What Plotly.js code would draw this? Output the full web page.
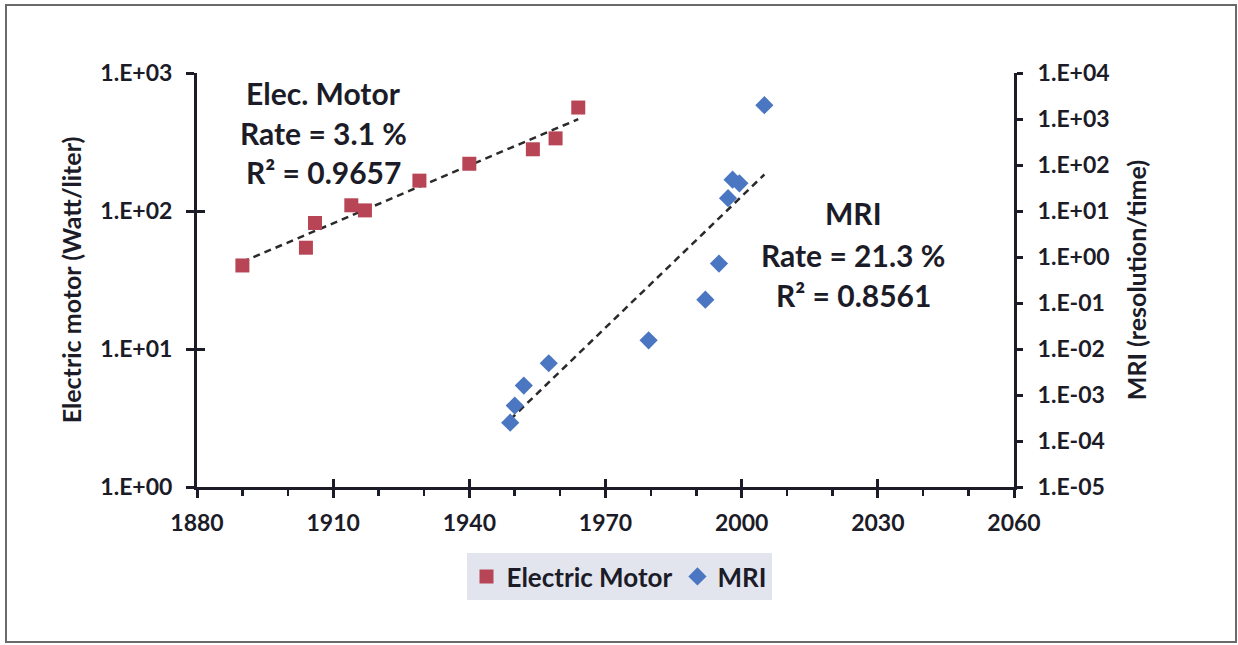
<!DOCTYPE html>
<html>
<head>
<meta charset="utf-8">
<script src="https://cdn.plot.ly/plotly-3.0.1.min.js"></script>
<style>
  html, body { margin: 0; padding: 0; background: #ffffff; }
  #chart { width: 1238px; height: 645px; }
</style>
</head>
<body>
<div id="chart"></div>
<script>
// ---- Data ----
const motorYears  = [1890, 1904, 1906, 1914, 1917, 1929, 1940, 1954, 1959, 1964];
const motorValues = [40.3, 54.2, 81.9, 110, 101, 166, 220, 280, 336, 562];

const mriYears  = [1949, 1950, 1952, 1957.5, 1979.5, 1992, 1995, 1997, 1998, 1999.5, 2005];
const mriValues = [2.5e-4, 5.9e-4, 1.6e-3, 4.9e-3, 0.0154, 0.118, 0.72, 19, 48, 40, 2000];

const xTicks = [1880, 1910, 1940, 1970, 2000, 2030, 2060];
const leftTickVals  = [1, 10, 100, 1000];
const leftTickText  = ['1.E+00', '1.E+01', '1.E+02', '1.E+03'];
const rightTickVals = [1e-5, 1e-4, 1e-3, 1e-2, 1e-1, 1, 10, 100, 1000, 10000];
const rightTickText = ['1.E-05', '1.E-04', '1.E-03', '1.E-02', '1.E-01', '1.E+00', '1.E+01', '1.E+02', '1.E+03', '1.E+04'];

const motorLabel = ['Elec. Motor', 'Rate = 3.1 %', 'R\u00B2 = 0.9657'];
const mriLabel   = ['MRI', 'Rate = 21.3 %', 'R\u00B2 = 0.8561'];

// ---- Exponential (log-linear) least-squares trendline ----
function expFit(xs, ys) {
  const n = xs.length;
  const ly = ys.map(v => Math.log10(v));
  const mx = xs.reduce((a, b) => a + b, 0) / n;
  const my = ly.reduce((a, b) => a + b, 0) / n;
  let sxy = 0, sxx = 0;
  for (let i = 0; i < n; i++) { sxy += (xs[i] - mx) * (ly[i] - my); sxx += (xs[i] - mx) ** 2; }
  const b = sxy / sxx, a = my - b * mx;
  const x0 = Math.min(...xs), x1 = Math.max(...xs);
  return { x: [x0, x1], y: [Math.pow(10, a + b * x0), Math.pow(10, a + b * x1)] };
}
const motorFit = expFit(motorYears, motorValues);
const mriFit = expFit(mriYears, mriValues);

const RED = '#B84556';
const BLUE = '#4A76C2';
const INK = '#1c1c28';
const FONT = 'Lato, "Open Sans", sans-serif';

const traces = [
  { x: motorFit.x, y: motorFit.y, mode: 'lines', xaxis: 'x', yaxis: 'y',
    line: { color: '#2a2a2a', width: 2.5, dash: '7px,5px' }, showlegend: false, hoverinfo: 'skip' },
  { x: mriFit.x, y: mriFit.y, mode: 'lines', xaxis: 'x', yaxis: 'y2',
    line: { color: '#2a2a2a', width: 2.5, dash: '7px,5px' }, showlegend: false, hoverinfo: 'skip' },
  { x: motorYears, y: motorValues, name: 'Electric Motor', mode: 'markers', xaxis: 'x', yaxis: 'y',
    marker: { symbol: 'square', size: 14, color: RED } },
  { x: mriYears, y: mriValues, name: 'MRI', mode: 'markers', xaxis: 'x', yaxis: 'y2',
    marker: { symbol: 'diamond', size: 14, color: BLUE } },
  // invisible carrier trace for the inner tick halves
  { x: [1880], y: [1], xaxis: 'x2', yaxis: 'y3', mode: 'markers', marker: { opacity: 0 },
    showlegend: false, hoverinfo: 'skip' }
];

const L = 197, R = 1014, T = 73, B = 487;
const pw = R - L, ph = B - T;
const px = v => (v - L) / pw;
const py = v => (B - v) / ph;

const annotations = [];
const motorY = [93, 133, 172];
motorLabel.forEach((t, i) => annotations.push({
  text: t, xref: 'paper', yref: 'paper', x: px(323), y: py(motorY[i]),
  xanchor: 'center', yanchor: 'middle', showarrow: false,
  font: { family: FONT, size: 30, color: INK, weight: 700 }
}));
const mriY = [213, 255, 295];
mriLabel.forEach((t, i) => annotations.push({
  text: t, xref: 'paper', yref: 'paper', x: px(853), y: py(mriY[i]),
  xanchor: 'center', yanchor: 'middle', showarrow: false,
  font: { family: FONT, size: 30, color: INK, weight: 700 }
}));

const axisCommon = {
  showgrid: false, zeroline: false, showline: true, linewidth: 3, linecolor: INK,
  tickcolor: INK, tickwidth: 3,
  tickfont: { family: FONT, size: 23, color: INK, weight: 700 }
};

const layout = {
  width: 1238, height: 645,
  margin: { l: L, r: 1238 - R, t: T, b: 645 - B, pad: 0 },
  paper_bgcolor: '#ffffff', plot_bgcolor: '#ffffff',
  font: { family: FONT, color: INK, weight: 700 },
  xaxis: Object.assign({}, axisCommon, {
    range: [1880, 2060], tickmode: 'array', tickvals: xTicks, ticktext: xTicks.map(String),
    ticks: 'outside', ticklen: 8, anchor: 'y', ticklabelstandoff: 5,
    minor: { tickmode: 'linear', tick0: 1880, dtick: 10, ticks: 'outside', ticklen: 6, tickwidth: 2.5, tickcolor: INK }
  }),
  xaxis2: { range: [1880, 2060], overlaying: 'x', anchor: 'y3', side: 'bottom', showgrid: false, zeroline: false,
    showline: false, tickmode: 'array', tickvals: xTicks, ticks: 'inside', ticklen: 8, tickwidth: 3, tickcolor: INK,
    showticklabels: false },
  yaxis: Object.assign({}, axisCommon, {
    type: 'log', range: [0, 3], tickmode: 'array', tickvals: leftTickVals, ticktext: leftTickText,
    ticks: 'outside', ticklen: 8, ticklabelstandoff: 9,
    title: { text: 'Electric motor (Watt/liter)', font: { family: FONT, size: 25, color: INK, weight: 700 }, standoff: 12 }
  }),
  yaxis3: { type: 'log', range: [0, 3], overlaying: 'y', side: 'left', anchor: 'x2', showgrid: false, zeroline: false,
    showline: false, tickmode: 'array', tickvals: leftTickVals, ticks: 'inside', ticklen: 8, tickwidth: 3,
    tickcolor: INK, showticklabels: false },
  yaxis2: Object.assign({}, axisCommon, {
    type: 'log', range: [-5, 4], overlaying: 'y', side: 'right', anchor: 'x',
    tickmode: 'array', tickvals: rightTickVals, ticktext: rightTickText,
    ticks: 'outside', ticklen: 6, ticklabelstandoff: 10,
    title: { text: 'MRI (resolution/time)', font: { family: FONT, size: 25, color: INK, weight: 700 }, standoff: 20 }
  }),
  legend: {
    orientation: 'h', x: px(619), y: py(553), xanchor: 'center', yanchor: 'top',
    bgcolor: '#e3e5ee', borderwidth: 0,
    font: { family: FONT, size: 26, color: INK, weight: 700 },
    itemwidth: 30, tracegroupgap: 0
  },
  annotations: annotations,
  shapes: [{
    type: 'rect', xref: 'paper', yref: 'paper', layer: 'below',
    x0: px(6), x1: px(1236), y0: py(642), y1: py(5),
    line: { color: '#6a6a6a', width: 2 }, fillcolor: 'rgba(0,0,0,0)'
  }],
  showlegend: true,
  hovermode: false
};

Plotly.newPlot('chart', traces, layout, { displayModeBar: false, staticPlot: true });
</script>
</body>
</html>
